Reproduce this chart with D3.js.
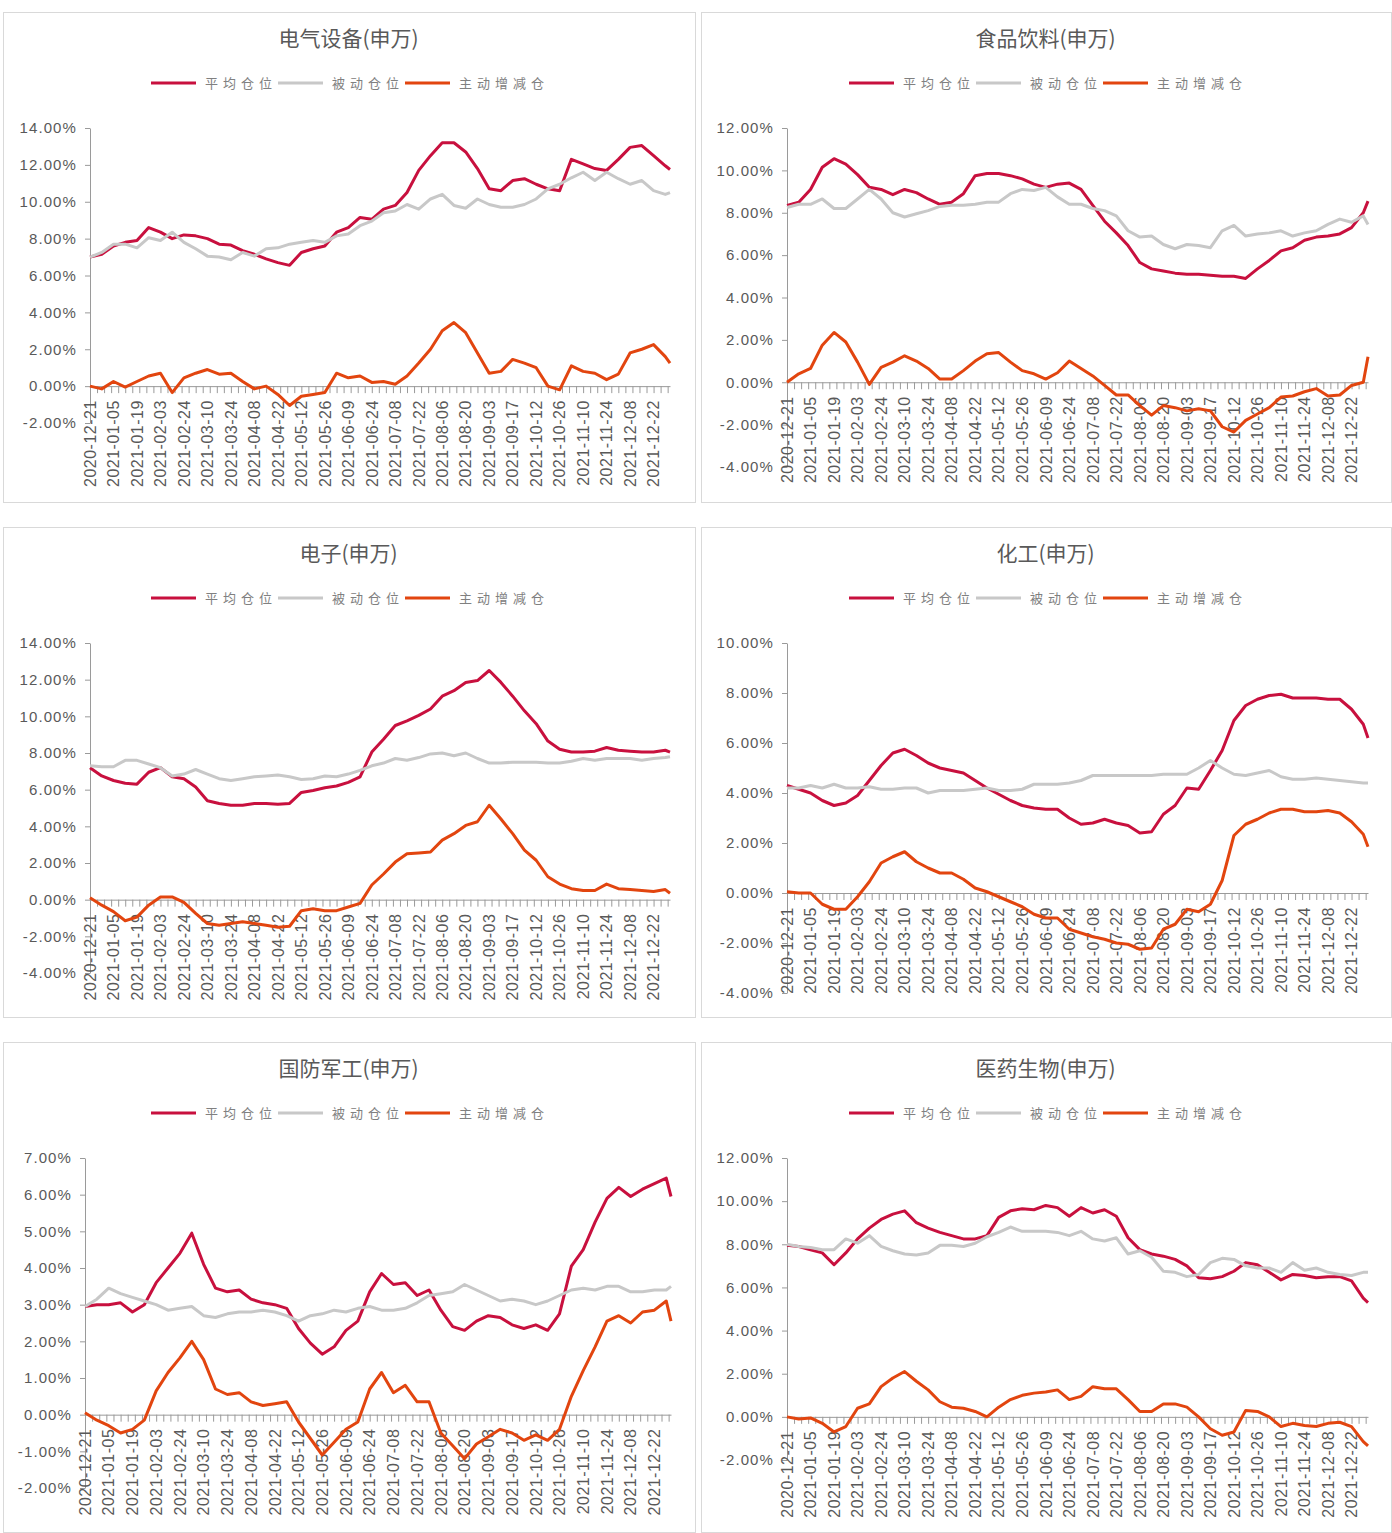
<!DOCTYPE html>
<html>
<head>
<meta charset="utf-8">
<script src="https://cdn.jsdelivr.net/npm/d3@7"></script>
<style>
  body { margin: 0; background: #fff; }
  svg text { font-family: "Liberation Sans", Arial, sans-serif; }
</style>
</head>
<body>
<svg id="chart" width="1392" height="1533"></svg>
<script>
// x axis category labels (every 10th trading day)
const dateLabels = ['2020-12-21','2021-01-05','2021-01-19','2021-02-03','2021-02-24','2021-03-10',
  '2021-03-24','2021-04-08','2021-04-22','2021-05-12','2021-05-26','2021-06-09','2021-06-24',
  '2021-07-08','2021-07-22','2021-08-06','2021-08-20','2021-09-03','2021-09-17','2021-10-12',
  '2021-10-26','2021-11-10','2021-11-24','2021-12-08','2021-12-22'];
const lastDay = 247;
// trading-day index of every sampled value
const sampleDays = d3.range(0, 250, 5).concat([lastDay]);

const seriesNames = ['平均仓位', '被动仓位', '主动增减仓'];

// 电气设备
const elecAvg = [7.0,7.15,7.6,7.8,7.9,8.6,8.35,8.0,8.2,8.15,8.0,7.7,7.65,7.35,7.15,6.9,6.7,6.55,7.25,7.45,
  7.6,8.35,8.6,9.15,9.05,9.6,9.8,10.5,11.7,12.5,13.2,13.2,12.7,11.8,10.7,10.6,11.15,11.25,10.95,10.7,
  10.6,12.3,12.05,11.8,11.7,12.3,12.95,13.05,12.5,11.95,11.75];
const elecPassive = [7.0,7.25,7.7,7.7,7.5,8.05,7.9,8.35,7.8,7.45,7.05,7.0,6.85,7.25,7.05,7.45,7.5,7.7,7.8,7.9,
  7.8,8.15,8.25,8.7,8.95,9.4,9.5,9.85,9.6,10.15,10.4,9.8,9.65,10.15,9.85,9.7,9.7,9.85,10.15,10.7,
  10.95,11.3,11.6,11.15,11.6,11.25,10.95,11.15,10.6,10.4,10.5];
const elecActive = [0,-0.15,0.25,-0.05,0.25,0.55,0.7,-0.35,0.45,0.7,0.9,0.65,0.7,0.25,-0.15,0,-0.45,-1.05,-0.55,-0.45,
  -0.35,0.7,0.45,0.55,0.2,0.25,0.1,0.55,1.25,2.0,3.0,3.45,2.9,1.8,0.7,0.8,1.45,1.25,1.0,0,
  -0.2,1.1,0.8,0.7,0.35,0.65,1.8,2.0,2.25,1.6,1.25];

// 食品饮料
const foodAvg = [8.35,8.5,9.1,10.15,10.55,10.3,9.8,9.2,9.1,8.85,9.1,8.95,8.65,8.4,8.5,8.9,9.75,9.85,9.85,9.75,
  9.6,9.35,9.2,9.35,9.4,9.1,8.35,7.6,7.05,6.45,5.65,5.35,5.25,5.15,5.1,5.1,5.05,5.0,5.0,4.9,
  5.35,5.75,6.2,6.35,6.7,6.85,6.9,7.0,7.3,8.0,8.55];
const foodPassive = [8.25,8.4,8.4,8.65,8.2,8.2,8.65,9.1,8.65,8.0,7.8,7.95,8.1,8.3,8.35,8.35,8.4,8.5,8.5,8.9,
  9.1,9.05,9.2,8.75,8.4,8.4,8.2,8.1,7.85,7.15,6.85,6.9,6.5,6.3,6.5,6.45,6.35,7.15,7.4,6.9,
  7.0,7.05,7.15,6.9,7.05,7.15,7.45,7.7,7.55,7.85,7.45];
const foodActive = [0,0.4,0.65,1.75,2.35,1.9,0.95,-0.1,0.7,0.95,1.25,1.0,0.65,0.15,0.15,0.55,1.0,1.35,1.4,0.95,
  0.55,0.4,0.15,0.45,1.0,0.65,0.3,-0.15,-0.6,-0.6,-1.1,-1.55,-1.1,-1.2,-1.35,-1.25,-1.35,-2.1,-2.35,-1.8,
  -1.5,-1.2,-0.7,-0.65,-0.45,-0.3,-0.65,-0.6,-0.15,0,1.2];

// 电子
const elecnAvg = [7.2,6.75,6.5,6.35,6.3,6.95,7.2,6.7,6.6,6.15,5.4,5.25,5.15,5.15,5.25,5.25,5.2,5.25,5.85,5.95,
  6.1,6.2,6.4,6.7,8.05,8.75,9.5,9.75,10.05,10.4,11.1,11.4,11.85,11.95,12.5,11.85,11.1,10.3,9.6,8.65,
  8.2,8.05,8.05,8.1,8.3,8.15,8.1,8.05,8.05,8.15,8.05];
const elecnPassive = [7.3,7.25,7.25,7.6,7.6,7.4,7.2,6.75,6.85,7.1,6.85,6.6,6.5,6.6,6.7,6.75,6.8,6.7,6.55,6.6,
  6.75,6.7,6.85,7.05,7.3,7.45,7.7,7.6,7.75,7.95,8.0,7.85,8.0,7.7,7.45,7.45,7.5,7.5,7.5,7.45,
  7.45,7.55,7.7,7.6,7.7,7.7,7.7,7.6,7.7,7.75,7.8];
const elecnActive = [0.1,-0.3,-0.65,-1.15,-0.95,-0.3,0.15,0.15,-0.15,-0.75,-1.3,-1.4,-1.3,-1.2,-1.3,-1.4,-1.5,-1.45,-0.6,-0.5,
  -0.6,-0.6,-0.4,-0.2,0.8,1.4,2.05,2.5,2.55,2.6,3.25,3.6,4.05,4.25,5.15,4.4,3.6,2.7,2.15,1.25,
  0.85,0.6,0.5,0.5,0.85,0.6,0.55,0.5,0.45,0.55,0.35];

// 化工
const chemAvg = [4.3,4.15,4.0,3.7,3.5,3.6,3.9,4.5,5.1,5.6,5.75,5.5,5.2,5.0,4.9,4.8,4.5,4.2,3.95,3.7,
  3.5,3.4,3.35,3.35,3.0,2.75,2.8,2.95,2.8,2.7,2.4,2.45,3.15,3.5,4.2,4.15,4.9,5.7,6.9,7.5,
  7.75,7.9,7.95,7.8,7.8,7.8,7.75,7.75,7.35,6.75,6.2];
const chemPassive = [4.2,4.2,4.3,4.2,4.35,4.2,4.2,4.25,4.15,4.15,4.2,4.2,4.0,4.1,4.1,4.1,4.15,4.2,4.1,4.1,
  4.15,4.35,4.35,4.35,4.4,4.5,4.7,4.7,4.7,4.7,4.7,4.7,4.75,4.75,4.75,5.0,5.3,5.0,4.75,4.7,
  4.8,4.9,4.65,4.55,4.55,4.6,4.55,4.5,4.45,4.4,4.4];
const chemActive = [0.05,0,0,-0.45,-0.65,-0.65,-0.15,0.45,1.2,1.45,1.65,1.25,1.0,0.8,0.8,0.55,0.2,0.05,-0.15,-0.35,
  -0.55,-0.85,-1.0,-1.0,-1.45,-1.6,-1.75,-1.85,-2.0,-2.05,-2.25,-2.2,-1.45,-1.25,-0.65,-0.75,-0.45,0.5,2.3,2.75,
  2.95,3.2,3.35,3.35,3.25,3.25,3.3,3.2,2.85,2.35,1.85];

// 国防军工
const defAvg = [2.95,3.0,3.0,3.05,2.8,3.0,3.6,4.0,4.4,4.95,4.1,3.45,3.35,3.4,3.15,3.05,3.0,2.9,2.35,1.95,
  1.65,1.85,2.3,2.55,3.35,3.85,3.55,3.6,3.25,3.4,2.85,2.4,2.3,2.55,2.7,2.65,2.45,2.35,2.45,2.3,
  2.75,4.05,4.5,5.25,5.9,6.2,5.95,6.15,6.3,6.45,5.95];
const defPassive = [2.95,3.15,3.45,3.3,3.2,3.1,3.0,2.85,2.9,2.95,2.7,2.65,2.75,2.8,2.8,2.85,2.8,2.7,2.55,2.7,
  2.75,2.85,2.8,2.9,2.95,2.85,2.85,2.9,3.05,3.25,3.3,3.35,3.55,3.4,3.25,3.1,3.15,3.1,3.0,3.1,
  3.25,3.4,3.45,3.4,3.5,3.5,3.35,3.35,3.4,3.4,3.5];
const defActive = [0.05,-0.15,-0.3,-0.5,-0.4,-0.15,0.65,1.15,1.55,2.0,1.5,0.7,0.55,0.6,0.35,0.25,0.3,0.35,-0.2,-0.65,
  -1.1,-0.75,-0.4,-0.2,0.7,1.15,0.6,0.8,0.35,0.35,-0.5,-0.85,-1.2,-0.8,-0.6,-0.4,-0.5,-0.7,-0.55,-0.7,
  -0.4,0.5,1.2,1.85,2.55,2.7,2.5,2.8,2.85,3.1,2.55];

// 医药生物
const medAvg = [7.95,7.9,7.75,7.6,7.05,7.6,8.25,8.75,9.15,9.4,9.55,9.0,8.75,8.55,8.4,8.25,8.25,8.4,9.25,9.55,
  9.65,9.6,9.8,9.7,9.3,9.7,9.45,9.6,9.3,8.3,7.75,7.55,7.45,7.3,7.0,6.45,6.4,6.5,6.75,7.15,
  7.05,6.7,6.35,6.6,6.55,6.45,6.5,6.5,6.3,5.5,5.3];
const medPassive = [8.0,7.9,7.85,7.75,7.75,8.25,8.05,8.4,7.9,7.7,7.55,7.5,7.6,7.95,7.95,7.9,8.05,8.35,8.55,8.8,
  8.6,8.6,8.6,8.55,8.4,8.6,8.25,8.15,8.3,7.55,7.7,7.4,6.75,6.7,6.5,6.6,7.15,7.35,7.3,7.0,
  6.9,6.9,6.7,7.15,6.8,6.9,6.7,6.6,6.55,6.7,6.7];
const medActive = [0,-0.1,-0.05,-0.3,-0.7,-0.45,0.4,0.6,1.4,1.8,2.1,1.65,1.25,0.7,0.45,0.4,0.25,0,0.45,0.8,
  1.0,1.1,1.15,1.25,0.8,0.95,1.4,1.3,1.3,0.8,0.25,0.25,0.6,0.6,0.45,0,-0.55,-0.85,-0.7,0.3,
  0.25,0,-0.45,-0.3,-0.4,-0.45,-0.3,-0.25,-0.45,-1.15,-1.35];

const colors = ['#c8103e', '#c8c8c8', '#e2450f'];

// layout of each panel: box = frame, plot = [left, top, right, bottom]
const panels = [
  { title: '电气设备(申万)', series: [elecAvg, elecPassive, elecActive], domain: [-2, 14], step: 2,
    box: [3, 12, 693, 491], plot: [90, 128, 670, 423] },
  { title: '食品饮料(申万)', series: [foodAvg, foodPassive, foodActive], domain: [-4, 12], step: 2,
    box: [701, 12, 691, 491], plot: [787, 128, 1368, 467] },
  { title: '电子(申万)', series: [elecnAvg, elecnPassive, elecnActive], domain: [-4, 14], step: 2,
    box: [3, 527, 693, 491], plot: [90, 643, 670, 973] },
  { title: '化工(申万)', series: [chemAvg, chemPassive, chemActive], domain: [-4, 10], step: 2,
    box: [701, 527, 691, 491], plot: [787, 643, 1368, 993] },
  { title: '国防军工(申万)', series: [defAvg, defPassive, defActive], domain: [-2, 7], step: 1,
    box: [3, 1042, 693, 491], plot: [85, 1158, 671, 1488] },
  { title: '医药生物(申万)', series: [medAvg, medPassive, medActive], domain: [-2, 12], step: 2,
    box: [701, 1042, 691, 491], plot: [787, 1158, 1368, 1460] },
];

const svg = d3.select('#chart');

function drawPanel(p) {
  const [bx, by, bw, bh] = p.box;
  const g = svg.append('g');

  g.append('rect')
    .attr('x', bx + 0.5).attr('y', by + 0.5)
    .attr('width', bw - 1).attr('height', bh - 1)
    .attr('fill', '#fff').attr('stroke', '#d9d9d9');

  g.append('text')
    .attr('x', bx + bw / 2 - 1).attr('y', by + 34)
    .attr('text-anchor', 'middle')
    .style('font-family', '"Noto Sans CJK SC", sans-serif')
    .style('font-size', '21px')
    .attr('fill', '#595959')
    .text(p.title);

  // legend
  const legend = g.append('g').attr('transform', `translate(${bx + 148},${by + 71})`);
  seriesNames.forEach((name, i) => {
    const item = legend.append('g').attr('transform', `translate(${i * 127},0)`);
    item.append('line')
      .attr('x1', 0).attr('x2', 45).attr('y1', 0).attr('y2', 0)
      .attr('stroke', colors[i]).attr('stroke-width', 3);
    item.append('text')
      .attr('x', 54).attr('y', 5)
      .style('font-family', '"Noto Sans CJK SC", sans-serif')
      .style('font-size', '13px')
      .style('letter-spacing', '5px')
      .attr('fill', '#808080')
      .text(name);
  });

  const x = d3.scaleLinear().domain([0, lastDay]).range([p.plot[0], p.plot[2]]);
  const y = d3.scaleLinear().domain(p.domain).range([p.plot[3], p.plot[1]]);
  const yTicks = d3.range(p.domain[0], p.domain[1] + p.step / 2, p.step);

  const yAxis = g.append('g')
    .attr('transform', `translate(${p.plot[0]},0)`)
    .call(d3.axisLeft(y).tickValues(yTicks).tickFormat(d => d.toFixed(2) + '%')
      .tickSize(5).tickSizeOuter(0).tickPadding(8));
  yAxis.selectAll('path, line').attr('stroke', '#9a9a9a');
  yAxis.selectAll('text')
    .attr('fill', '#595959')
    .style('font-size', '15px')
    .style('letter-spacing', '1.1px')
    .style('font-family', '"Liberation Sans", Arial, sans-serif');

  const xAxis = g.append('g')
    .attr('transform', `translate(0,${y(0)})`)
    .call(d3.axisBottom(x).tickValues(d3.range(0, lastDay + 1, 3)).tickFormat('')
      .tickSize(7).tickSizeOuter(0));
  xAxis.selectAll('path, line').attr('stroke', '#9a9a9a');

  g.append('g').selectAll('text')
    .data(dateLabels)
    .join('text')
    .attr('transform', (d, i) => `translate(${x(i * 10)},${y(0) + 14}) rotate(-90)`)
    .attr('text-anchor', 'end')
    .attr('dy', '0.36em')
    .attr('fill', '#595959')
    .style('font-size', '16px')
    .style('letter-spacing', '0.5px')
    .text(d => d);

  const line = d3.line()
    .x((d, i) => x(sampleDays[i]))
    .y(d => y(d));

  p.series.forEach((values, i) => {
    g.append('path')
      .datum(values)
      .attr('d', line)
      .attr('fill', 'none')
      .attr('stroke', colors[i])
      .attr('stroke-width', 3)
      .attr('stroke-linejoin', 'round');
  });
}

panels.forEach(drawPanel);
</script>
</body>
</html>
